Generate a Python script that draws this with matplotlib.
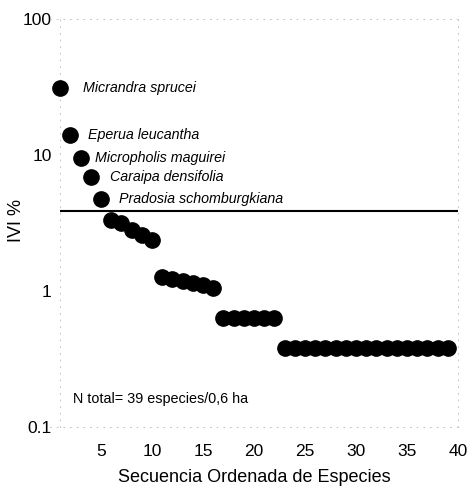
import matplotlib
matplotlib.use("Agg")
import matplotlib.pyplot as plt

plt.rcParams['font.family'] = ['Liberation Sans', 'DejaVu Sans']

# IVI % per species, ordered (39 species)
rank = list(range(1, 40))
ivi = [31.0, 14.0, 9.5, 6.9, 4.75,
       3.3, 3.15, 2.8, 2.58, 2.37,
       1.27, 1.22, 1.18, 1.15, 1.11, 1.05,
       0.63, 0.63, 0.63, 0.63, 0.63, 0.63] + [0.38] * 17
names = ["Micrandra sprucei", "Eperua leucantha", "Micropholis maguirei",
         "Caraipa densifolia", "Pradosia schomburgkiana"]
threshold = 3.9

fig = plt.figure(figsize=(4.72, 4.86), dpi=100)
ax = fig.add_axes([50 / 472, 59 / 486, 408 / 472, 408 / 486])

ax.plot(rank, ivi, 'o', color='black', markersize=11, linestyle='none',
        clip_on=False, zorder=3)
ax.hlines(threshold, rank[0], 40, color='black', linewidth=1.5)

offsets = [16.5, 12.7, 10.4, 13.8, 13]
for i, name in enumerate(names):
        ax.annotate(name, (rank[i], ivi[i]), xytext=(offsets[i], 0),
                    textcoords='offset points', va='center', ha='left',
                    fontsize=10.3, style='italic')

ax.text(2.25, 0.15, "N total= 39 especies/0,6 ha", fontsize=10.4,
        va='baseline')

ax.set_yscale('log')
ax.set_ylim(0.1, 100)
ax.set_xlim(0, 40)
ax.set_yticks([0.1, 1, 10, 100])
ax.set_yticklabels(["0.1", "1", "10", "100"])
ax.set_xticks([5, 10, 15, 20, 25, 30, 35, 40])
ax.minorticks_off()
ax.tick_params(length=0, labelsize=12.5)
ax.tick_params(axis='x', pad=12.5)
ax.tick_params(axis='y', pad=6)
ax.spines['left'].set_position(('data', 1))

for s in ax.spines.values():
        s.set_linestyle((0, (1, 7)))
        s.set_color('#b8b8b8')
        s.set_linewidth(0.6)

ax.set_xlabel("Secuencia Ordenada de Especies", fontsize=13, labelpad=7)
ax.set_ylabel("IVI %", fontsize=13)
ax.yaxis.set_label_coords(-0.061, 0.507)

fig.savefig("out.png", dpi=100)
